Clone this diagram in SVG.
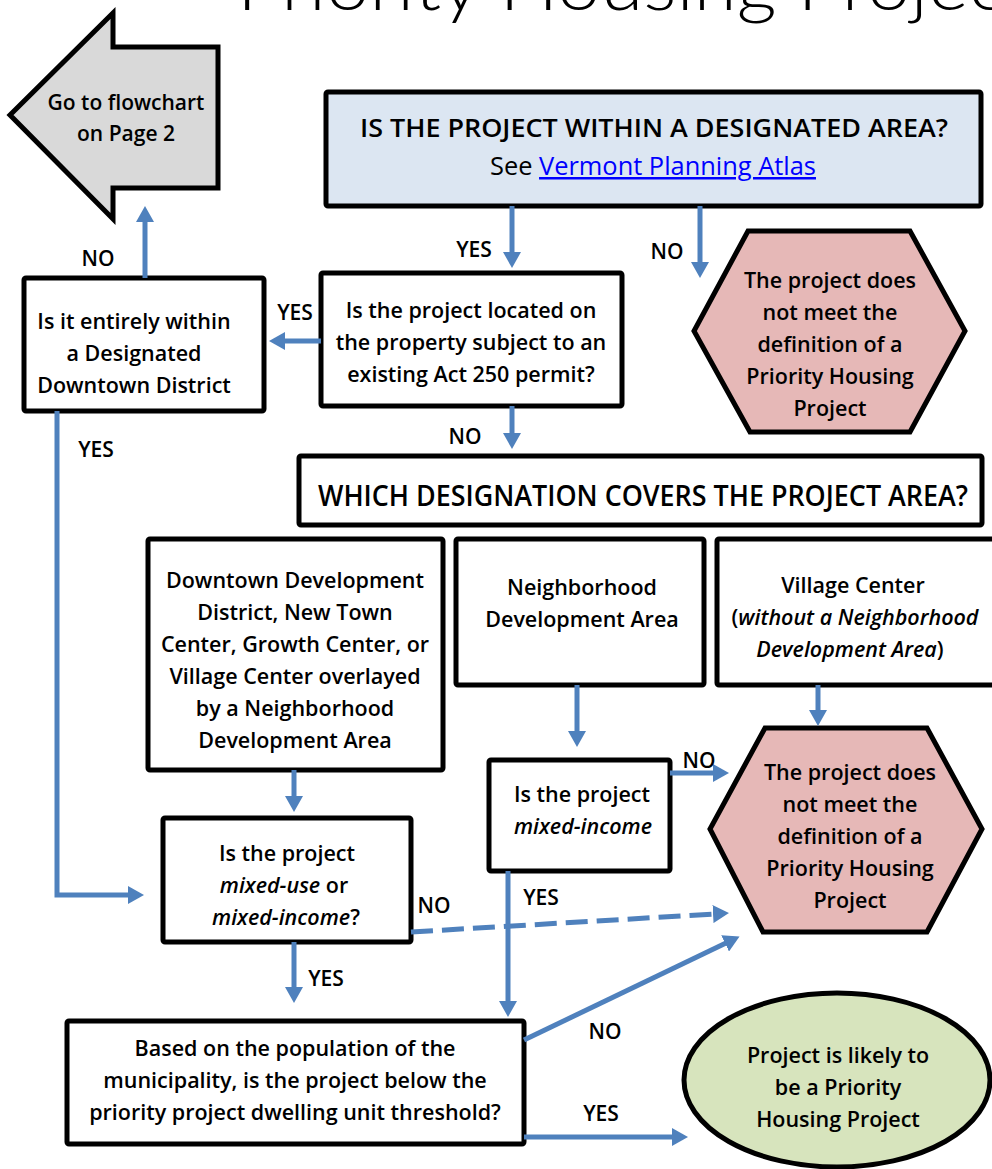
<svg xmlns="http://www.w3.org/2000/svg" width="992" height="1169" viewBox="0 0 992 1169">
<style>
.box{fill:#ffffff;stroke:#000000;stroke-width:5;stroke-linejoin:round}
.hex{fill:#e6b8b7;stroke:#000000;stroke-width:5;stroke-linejoin:miter}
.t{font-family:"Open Sans","Liberation Sans",sans-serif;font-weight:600;font-size:21.5px;fill:#000000;text-anchor:middle}
.lbl{font-family:"Open Sans","Liberation Sans",sans-serif;font-weight:600;font-size:21px;fill:#000000;text-anchor:middle}
.hd{font-family:"Open Sans","Liberation Sans",sans-serif;font-weight:600;fill:#000000;text-anchor:middle}
.c{fill:none;stroke:#4f81bd;stroke-width:5}
.i{font-style:italic}
</style>
<defs>
<marker id="ah" markerUnits="userSpaceOnUse" viewBox="0 0 16 18" markerWidth="16" markerHeight="18" refX="1" refY="9" orient="auto">
<path d="M0,0 L16,9 L0,18 Z" fill="#4f81bd"/>
</marker>
</defs>
<text x="237" y="10" font-family="Lato, 'Open Sans', sans-serif" font-weight="300" font-size="70" fill="#000000" textLength="795" lengthAdjust="spacingAndGlyphs">Priority Housing Project</text>

<g id="goto">
<polygon points="10,115 113,13 113,47 218,47 218,188 113,188 113,219" fill="#d9d9d9" stroke="#000000" stroke-width="5" stroke-linejoin="miter"/>
<text class="t" x="126" y="110" style="font-size:21px">Go to flowchart</text>
<text class="t" x="126" y="141" style="font-size:21px">on Page 2</text>
</g>

<g id="designated">
<rect x="326" y="92" width="655" height="114" rx="2" fill="#dce6f2" stroke="#000000" stroke-width="5"/>
<text class="hd" x="654" y="137" font-size="26" textLength="588" lengthAdjust="spacingAndGlyphs">IS THE PROJECT WITHIN A DESIGNATED AREA?</text>
<text class="t" x="653" y="175" style="font-size:25px;font-weight:400" textLength="326" lengthAdjust="spacingAndGlyphs">See <tspan fill="#0000ff" text-decoration="underline">Vermont Planning Atlas</tspan></text>
</g>

<g id="act250">
<rect class="box" x="321" y="273" width="301" height="133" rx="2"/>
<text class="t" x="471" y="318">Is the project located on</text>
<text class="t" x="471" y="350">the property subject to an</text>
<text class="t" x="471" y="382">existing Act 250 permit?</text>
</g>

<g id="downtown">
<rect class="box" x="24" y="278" width="240" height="133" rx="2"/>
<text class="t" x="134" y="329">Is it entirely within</text>
<text class="t" x="134" y="361">a Designated</text>
<text class="t" x="134" y="393">Downtown District</text>
</g>

<g id="hex1">
<polygon class="hex" points="748,231 910,231 965,331 910,432 750,432 694,331"/>
<text class="t" x="830" y="288">The project does</text>
<text class="t" x="830" y="320">not meet the</text>
<text class="t" x="830" y="352">definition of a</text>
<text class="t" x="830" y="384">Priority Housing</text>
<text class="t" x="830" y="416">Project</text>
</g>

<g id="which">
<rect class="box" x="299" y="456" width="683" height="69" rx="2"/>
<text class="hd" x="643" y="506" font-size="28" textLength="650" lengthAdjust="spacingAndGlyphs">WHICH DESIGNATION COVERS THE PROJECT AREA?</text>
</g>

<g id="boxA">
<rect class="box" x="148" y="539" width="295" height="231" rx="2"/>
<text class="t" x="295" y="588">Downtown Development</text>
<text class="t" x="295" y="620">District, New Town</text>
<text class="t" x="295" y="652">Center, Growth Center, or</text>
<text class="t" x="295" y="684">Village Center overlayed</text>
<text class="t" x="295" y="716">by a Neighborhood</text>
<text class="t" x="295" y="748">Development Area</text>
</g>

<g id="boxB">
<rect class="box" x="456" y="539" width="248" height="146" rx="2"/>
<text class="t" x="582" y="595">Neighborhood</text>
<text class="t" x="582" y="627">Development Area</text>
</g>

<g id="boxC">
<rect class="box" x="717" y="539" width="285" height="146" rx="2"/>
<text class="t" x="853" y="593">Village Center</text>
<text class="t" x="855" y="625">(<tspan class="i">without a Neighborhood</tspan></text>
<text class="t" x="850" y="657"><tspan class="i">Development Area</tspan>)</text>
</g>

<g id="mixeduse">
<rect class="box" x="163" y="818" width="248" height="124" rx="2"/>
<text class="t" x="287" y="861">Is the project</text>
<text class="t" x="284" y="893"><tspan class="i">mixed-use</tspan> or</text>
<text class="t" x="286" y="925"><tspan class="i">mixed-income</tspan>?</text>
</g>

<g id="mixedincome">
<rect class="box" x="489" y="760" width="181" height="111" rx="2"/>
<text class="t" x="582" y="802">Is the project</text>
<text class="t i" x="583" y="834">mixed-income</text>
</g>

<g id="hex2">
<polygon class="hex" points="765,728 927,728 982,829 927,932 763,932 710,829"/>
<text class="t" x="850" y="780">The project does</text>
<text class="t" x="850" y="812">not meet the</text>
<text class="t" x="850" y="844">definition of a</text>
<text class="t" x="850" y="876">Priority Housing</text>
<text class="t" x="850" y="908">Project</text>
</g>

<g id="threshold">
<rect class="box" x="67" y="1021" width="457" height="123" rx="2"/>
<text class="t" x="295" y="1056">Based on the population of the</text>
<text class="t" x="295" y="1088">municipality, is the project below the</text>
<text class="t" x="295" y="1120">priority project dwelling unit threshold?</text>
</g>

<g id="likely">
<ellipse cx="837" cy="1080" rx="153" ry="87" fill="#d7e4bd" stroke="#000000" stroke-width="5"/>
<text class="t" x="838" y="1063">Project is likely to</text>
<text class="t" x="838" y="1095">be a Priority</text>
<text class="t" x="838" y="1127">Housing Project</text>
</g>

<g id="connectors">
<path class="c" d="M512,206 V253" marker-end="url(#ah)"/>
<path class="c" d="M700,206 V263" marker-end="url(#ah)"/>
<path class="c" d="M321,341 H284" marker-end="url(#ah)"/>
<path class="c" d="M145,278 V221" marker-end="url(#ah)"/>
<path class="c" d="M57,411 V895 H129" marker-end="url(#ah)"/>
<path class="c" d="M512,406 V434" marker-end="url(#ah)"/>
<path class="c" d="M294,770 V797" marker-end="url(#ah)"/>
<path class="c" d="M577,685 V732" marker-end="url(#ah)"/>
<path class="c" d="M818,685 V711" marker-end="url(#ah)"/>
<path class="c" d="M670,773 H714" marker-end="url(#ah)"/>
<path class="c" d="M508,871 V1002" marker-end="url(#ah)"/>
<path class="c" d="M411,932 L714,914" stroke-dasharray="22 9" marker-end="url(#ah)"/>
<path class="c" d="M294,942 V988" marker-end="url(#ah)"/>
<path class="c" d="M524,1040 L726,943" marker-end="url(#ah)"/>
<path class="c" d="M524,1137 H673" marker-end="url(#ah)"/>
<text class="lbl" x="474" y="257">YES</text>
<text class="lbl" x="667" y="259">NO</text>
<text class="lbl" x="98" y="266">NO</text>
<text class="lbl" x="295" y="320">YES</text>
<text class="lbl" x="96" y="457">YES</text>
<text class="lbl" x="465" y="444">NO</text>
<text class="lbl" x="699" y="768">NO</text>
<text class="lbl" x="541" y="905">YES</text>
<text class="lbl" x="434" y="913">NO</text>
<text class="lbl" x="326" y="986">YES</text>
<text class="lbl" x="605" y="1039">NO</text>
<text class="lbl" x="601" y="1121">YES</text>
</g>
</svg>
